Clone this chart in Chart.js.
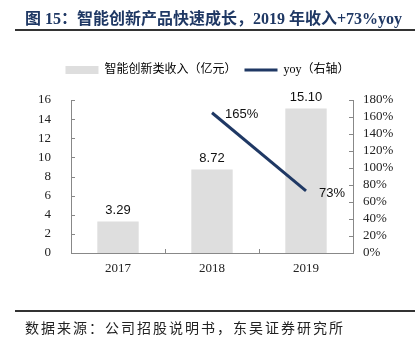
<!DOCTYPE html>
<html><head><meta charset="utf-8">
<script src="https://cdn.jsdelivr.net/npm/chart.js@4"></script>
<style>
html,body{margin:0;padding:0;background:#fff;}
#wrap{position:relative;width:415px;height:354px;overflow:hidden;background:#fff;}
#c{position:absolute;left:0;top:0;}
#title{position:absolute;left:25px;top:5px;font:bold 16px "Liberation Serif","Noto Sans CJK SC",serif;color:#1f3864;white-space:nowrap;}
#rule1{position:absolute;left:15px;top:29px;width:400px;height:2px;background:#333;}
#rule2{position:absolute;left:15px;top:310px;width:400px;height:2px;background:#333;}
#foot{position:absolute;left:25px;top:317px;font:14px "Noto Sans CJK SC",sans-serif;letter-spacing:2px;color:#222;white-space:nowrap;}
</style></head>
<body>
<div id="wrap">
<canvas id="c" width="415" height="354"></canvas>
<div id="title">图 15：智能创新产品快速成长，2019 年收入+73%yoy</div>
<div id="rule1"></div>
<div id="rule2"></div>
<div id="foot">数据来源：公司招股说明书，东吴证券研究所</div>
</div>
<script>
const categories = ['2017', '2018', '2019'];
const revenue = [3.29, 8.72, 15.10];
const yoy = [null, 165, 73];
const seriesNames = ['智能创新类收入（亿元）', 'yoy（右轴）'];

const barColor = '#dedede';
const lineColor = '#1f3864';
const axisColor = '#888888';

const legendFix = {
  id: 'legendFix',
  afterInit(chart) {
    const l = chart.legend;
    if (!l) return;
    const orig = l.fit;
    l.fit = function () { orig.call(this); this.height = 44; };
  }
};

const extras = {
  id: 'extras',
  afterDraw(chart) {
    const ctx = chart.ctx;
    const ca = chart.chartArea;
    const y = chart.scales.y, y1 = chart.scales.y1, x = chart.scales.x;
    ctx.save();
    ctx.strokeStyle = axisColor;
    ctx.lineWidth = 1;
    ctx.beginPath();
    y.ticks.forEach(t => {
      const py = Math.round(y.getPixelForValue(t.value)) + 0.5;
      ctx.moveTo(ca.left, py); ctx.lineTo(ca.left + 4, py);
    });
    y1.ticks.forEach(t => {
      const py = Math.round(y1.getPixelForValue(t.value)) + 0.5;
      ctx.moveTo(ca.right - 4, py); ctx.lineTo(ca.right, py);
    });
    for (let i = 1; i < categories.length; i++) {
      const px = Math.round((x.getPixelForValue(i - 1) + x.getPixelForValue(i)) / 2) + 0.5;
      ctx.moveTo(px, ca.bottom); ctx.lineTo(px, ca.bottom - 4);
    }
    ctx.stroke();

    ctx.fillStyle = '#111';
    ctx.font = '13px "Liberation Sans", Arial, sans-serif';
    const barMeta = chart.getDatasetMeta(0);
    barMeta.data.forEach((el, i) => {
      ctx.textAlign = 'center';
      ctx.textBaseline = 'bottom';
      ctx.fillText(revenue[i].toFixed(2), el.x, el.y - 5);
    });
    const lineMeta = chart.getDatasetMeta(1);
    lineMeta.data.forEach((el, i) => {
      if (yoy[i] == null) return;
      ctx.textAlign = 'left';
      ctx.textBaseline = 'middle';
      ctx.fillText(yoy[i] + '%', el.x + 13, el.y + 2);
    });
    ctx.restore();
  }
};

new Chart(document.getElementById('c'), {
  data: {
    labels: categories,
    datasets: [
      {
        type: 'bar', label: seriesNames[0], data: revenue, yAxisID: 'y',
        backgroundColor: barColor, borderWidth: 0,
        barPercentage: 0.44, categoryPercentage: 1.0, order: 2
      },
      {
        type: 'line', label: seriesNames[1], data: yoy, yAxisID: 'y1',
        borderColor: lineColor, backgroundColor: lineColor, borderWidth: 3,
        pointRadius: 0, spanGaps: false, tension: 0, order: 1
      }
    ]
  },
  options: {
    responsive: false,
    animation: false,
    devicePixelRatio: 1,
    layout: { padding: { top: 56, bottom: 71, left: 0, right: 0 } },
    plugins: {
      tooltip: { enabled: false },
      legend: {
        position: 'top',
        labels: {
          font: { size: 12, family: '"Liberation Serif", "Noto Sans CJK SC", serif' },
          color: '#333',
          padding: 8,
          boxWidth: 33,
          boxHeight: 8,
          usePointStyle: true,
          pointStyleWidth: 33,
          generateLabels(chart) {
            return [
              { text: seriesNames[0], fillStyle: barColor, strokeStyle: barColor, lineWidth: 0, pointStyle: 'rect', datasetIndex: 0, hidden: false },
              { text: seriesNames[1], fillStyle: lineColor, strokeStyle: lineColor, lineWidth: 3, pointStyle: 'line', datasetIndex: 1, hidden: false }
            ];
          }
        }
      }
    },
    scales: {
      x: {
        offset: true,
        grid: { display: false, drawTicks: false },
        border: { display: true, color: axisColor },
        ticks: { padding: 8, color: '#222', font: { size: 13, family: '"Liberation Serif", serif' } },
        afterFit(s) { s.height = 30; }
      },
      y: {
        position: 'left', min: 0, max: 16,
        grid: { display: false, drawTicks: false },
        border: { display: true, color: axisColor },
        ticks: { stepSize: 2, autoSkip: false, padding: 20, color: '#222', font: { size: 13, family: '"Liberation Serif", serif' } },
        afterFit(s) { s.width = 71; }
      },
      y1: {
        position: 'right', min: 0, max: 180,
        grid: { display: false, drawTicks: false },
        border: { display: true, color: axisColor },
        ticks: { stepSize: 20, autoSkip: false, padding: 10, color: '#222', font: { size: 13, family: '"Liberation Serif", serif' }, callback: v => v + '%' },
        afterFit(s) { s.width = 62; }
      }
    }
  },
  plugins: [legendFix, extras]
});
</script>
</body></html>
